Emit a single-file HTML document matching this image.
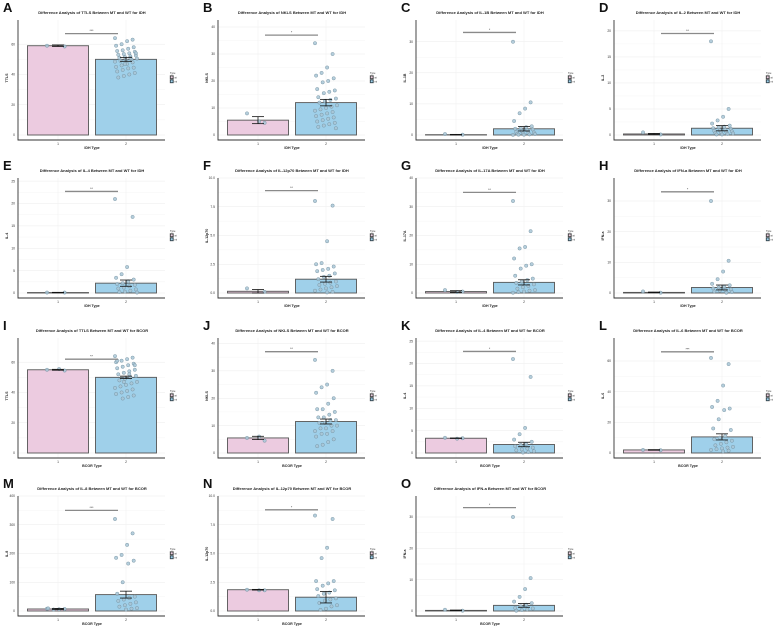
<!DOCTYPE html>
<html><head><meta charset="utf-8">
<style>
body{margin:0;background:#fff;}
svg{display:block;font-family:"Liberation Sans",sans-serif;}
</style></head>
<body>
<svg id="fig" width="779" height="628" viewBox="0 0 779 628"></svg>
<script>
const categories = ["1","2"];
const colOffsets = [0,200,398,596];
const rowOffsets = [0,158,318,476];

const A_ticks=[0,20,40,60]; const A_means=[59,50]; const A_errs=[0.5,1.3];
const A_p1=[59,58.5]; const A_p2=[64,63,62,60,59,58,57,56,55.5,55,54,53.5,53,52.5,52,51.5,51,50.5,50,49.5,49,48.5,48,47,46,45,44.5,44,43,42,41,40,39,38,54,51,47];
const B_ticks=[0,10,20,30,40]; const B_means=[5.5,12]; const B_errs=[1.3,1.2];
const B_p1=[8,4.5,5]; const B_p2=[34,30,25,23,22,21,20,19.5,17,16.5,16,15.5,14,13.5,13,12.5,12,11,10.5,10,9.5,9,8.5,8,7.5,7,6.5,6,5.5,5,4.5,4,3.5,3,2.5];
const C_ticks=[0,10,20,30]; const C_means=[0.1,2]; const C_errs=[0.1,0.7];
const C_p1=[0.3,0.1]; const C_p2=[30,10.5,8.5,7,4.5,2.8,2.5,2.2,2,1.8,1.5,1.3,1,0.8,0.6,0.5,0.4,0.3,0.2,0.1,0.1,0.05];
const D_ticks=[0,5,10,15,20]; const D_means=[0.2,1.3]; const D_errs=[0.1,0.5];
const D_p1=[0.5,0.1]; const D_p2=[18,5,3.5,2.8,2.2,1.8,1.6,1.5,1.3,1.2,1,0.9,0.8,0.7,0.6,0.5,0.4,0.3,0.2,0.1,0.1];
const E_ticks=[0,5,10,15,20,25]; const E_means=[0.1,2.2]; const E_errs=[0.05,0.7];
const E_p1=[0.1,0.1]; const E_p2=[21,17,5.8,4.2,3.4,3,2.6,2.2,2,1.8,1.5,1.2,1,0.8,0.5,0.3,0.2,0.1];
const F_ticks=[0,2.5,5,7.5,10]; const F_means=[0.15,1.2]; const F_errs=[0.15,0.25];
const F_p1=[0.4,0.1]; const F_p2=[8,7.6,4.5,2.6,2.5,2.3,2.1,2,1.9,1.7,1.5,1.4,1.2,1,0.9,0.8,0.7,0.6,0.5,0.4,0.3,0.2,0.1,0.05];
const G_ticks=[0,10,20,30,40]; const G_means=[0.5,3.7]; const G_errs=[0.3,0.9];
const G_p1=[1,0.5,0.3]; const G_p2=[32,21.5,16,15.5,12,10,9.5,8.5,6,5,4.5,4,3.5,3,2.5,2,1.5,1,0.8,0.5,0.3,0.1];
const H_ticks=[0,10,20,30]; const H_means=[0.2,1.8]; const H_errs=[0.1,0.8];
const H_p1=[0.5,0.1]; const H_p2=[30,10.5,7,4.5,3,2.5,2,1.8,1.5,1.2,1,0.8,0.5,0.3,0.1];
const I_ticks=[0,20,40,60]; const I_means=[55,50]; const I_errs=[0.3,0.8];
const I_p1=[55,54.5,55.5]; const I_p2=[64,63,62,61,60,59,58,57,56,55,54,53,52,51,50,49,48,47,46,45,44,43,42,41,40,39,38,37,36,61,58,52,47];
const J_ticks=[0,10,20,30,40]; const J_means=[5.5,11.5]; const J_errs=[0.6,0.9];
const J_p1=[5.5,4.5,6]; const J_p2=[34,30,25,24,22,20,18,16,16,15,14,13,13,12,12,11,11,10,10,9,9,8,8,7,7,6,5,4,3,2.5];
const K_ticks=[0,5,10,15,20,25]; const K_means=[3.3,1.9]; const K_errs=[0.05,0.5];
const K_p1=[3.4,3.3,3.2]; const K_p2=[21,17,5.6,4.2,3,2.5,2,1.8,1.5,1.2,1,0.8,0.6,0.4,0.2,0.1];
const L_ticks=[0,20,40,60]; const L_means=[2,10.5]; const L_errs=[0.2,2];
const L_p1=[2,1.8]; const L_p2=[62,58,44,34,30,29,28,22,16,15,11,10,9,8,7,6,5,4,3.5,3,2.5,2,1.5,1];
const M_ticks=[0,100,200,300,400]; const M_means=[7,57]; const M_errs=[2,12];
const M_p1=[8,7,6,5,9]; const M_p2=[320,270,230,195,185,175,165,100,60,50,45,40,35,30,25,20,15,10,8,5];
const N_ticks=[0,2.5,5,7.5,10]; const N_means=[1.85,1.2]; const N_errs=[0.03,0.5];
const N_p1=[1.85,1.8,1.8]; const N_p2=[8.3,8,5.5,4.6,2.6,2.6,2.4,2.2,1.9,1.8,1.6,1.5,1.3,1.1,1,0.9,0.7,0.5,0.4,0.2,0.1];
const O_ticks=[0,10,20,30]; const O_means=[0.2,1.8]; const O_errs=[0.1,0.6];
const O_p1=[0.4,0.1]; const O_p2=[30,10.5,7,4.5,3,2.5,2,1.5,1,0.8,0.5,0.3,0.1];

const panels=[
 {L:"A",col:0,row:0,v:"TTLS",g:"IDH",ymax:76,ticks:A_ticks,means:A_means,errs:A_errs,p1:A_p1,p2:A_p2,sig:"***",sy:67,tf:0},
 {L:"B",col:1,row:0,v:"NKLS",g:"IDH",ymax:42.6,ticks:B_ticks,means:B_means,errs:B_errs,p1:B_p1,p2:B_p2,sig:"*",sy:37,tf:0},
 {L:"C",col:2,row:0,v:"IL-1B",g:"IDH",ymax:37,ticks:C_ticks,means:C_means,errs:C_errs,p1:C_p1,p2:C_p2,sig:"*",sy:33,tf:0},
 {L:"D",col:3,row:0,v:"IL-2",g:"IDH",ymax:22.1,ticks:D_ticks,means:D_means,errs:D_errs,p1:D_p1,p2:D_p2,sig:"**",sy:19.5,tf:0},
 {L:"E",col:0,row:1,v:"IL-4",g:"IDH",ymax:25.7,ticks:E_ticks,means:E_means,errs:E_errs,p1:E_p1,p2:E_p2,sig:"**",sy:22.7,tf:0},
 {L:"F",col:1,row:1,v:"IL-12p70",g:"IDH",ymax:10,ticks:F_ticks,means:F_means,errs:F_errs,p1:F_p1,p2:F_p2,sig:"**",sy:8.9,tf:1},
 {L:"G",col:2,row:1,v:"IL-17A",g:"IDH",ymax:40,ticks:G_ticks,means:G_means,errs:G_errs,p1:G_p1,p2:G_p2,sig:"**",sy:35,tf:0},
 {L:"H",col:3,row:1,v:"IFN-a",g:"IDH",ymax:37.5,ticks:H_ticks,means:H_means,errs:H_errs,p1:H_p1,p2:H_p2,sig:"*",sy:33,tf:0},
 {L:"I",col:0,row:2,v:"TTLS",g:"BCOR",ymax:76,ticks:I_ticks,means:I_means,errs:I_errs,p1:I_p1,p2:I_p2,sig:"**",sy:62,tf:0},
 {L:"J",col:1,row:2,v:"NKLS",g:"BCOR",ymax:42,ticks:J_ticks,means:J_means,errs:J_errs,p1:J_p1,p2:J_p2,sig:"**",sy:37,tf:0},
 {L:"K",col:2,row:2,v:"IL-4",g:"BCOR",ymax:25.7,ticks:K_ticks,means:K_means,errs:K_errs,p1:K_p1,p2:K_p2,sig:"*",sy:22.7,tf:0},
 {L:"L",col:3,row:2,v:"IL-6",g:"BCOR",ymax:75,ticks:L_ticks,means:L_means,errs:L_errs,p1:L_p1,p2:L_p2,sig:"***",sy:66,tf:0},
 {L:"M",col:0,row:3,v:"IL-8",g:"BCOR",ymax:400,ticks:M_ticks,means:M_means,errs:M_errs,p1:M_p1,p2:M_p2,sig:"***",sy:350,tf:0},
 {L:"N",col:1,row:3,v:"IL-12p70",g:"BCOR",ymax:10,ticks:N_ticks,means:N_means,errs:N_errs,p1:N_p1,p2:N_p2,sig:"*",sy:8.8,tf:1},
 {L:"O",col:2,row:3,v:"IFN-a",g:"BCOR",ymax:36.7,ticks:O_ticks,means:O_means,errs:O_errs,p1:O_p1,p2:O_p2,sig:"*",sy:33,tf:0}
];

const NS="http://www.w3.org/2000/svg";
const fig=document.getElementById('fig');
function mk(parent,tag,attrs,text){
  const e=document.createElementNS(NS,tag);
  for(const k in attrs) e.setAttribute(k,attrs[k]);
  if(text!==undefined) e.textContent=text;
  parent.appendChild(e);
  return e;
}
const PL=18, PR=165, PT=20, ZERO=135, AXB=140;
const centers=[58,126], BW=61;

panels.forEach(p=>{
  const g=mk(fig,'g',{transform:`translate(${colOffsets[p.col]},${rowOffsets[p.row]})`});
  
  
  const y=v=>ZERO-(v/p.ymax)*(ZERO-PT);
  for(let i=0;i<p.ticks.length;i++){
    const l=mk(g,'line',{x1:PL,x2:PR,y1:y(p.ticks[i]),y2:y(p.ticks[i]),stroke:'#ebebeb','stroke-width':0.5});
    
    
    if(i<p.ticks.length-1){
      const mid=(p.ticks[i]+p.ticks[i+1])/2;
      mk(g,'line',{x1:PL,x2:PR,y1:y(mid),y2:y(mid),stroke:'#f3f3f3','stroke-width':0.4});
    }
  }
  centers.forEach(cx=>mk(g,'line',{x1:cx,x2:cx,y1:PT,y2:AXB,stroke:'#efefef','stroke-width':0.5}));
  const lt=mk(g,'text',{x:3,y:12,'font-size':13,'font-weight':'bold',fill:'#111'},p.L);
  
  
  const tt=mk(g,'text',{x:92,y:14,'font-size':4,'font-weight':'bold','text-anchor':'middle',fill:'#222'},
    `Difference Analysis of ${p.v} Between MT and WT for ${p.g}`);
  
  
  const fills=['#eccbe0','#9fd0ea'];
  p.means.forEach((m,i)=>{
    const b=mk(g,'rect',{x:centers[i]-BW/2,y:y(m),width:BW,height:ZERO-y(m),fill:fills[i],stroke:'#555','stroke-width':0.9});
    
    
  });
  [p.p1,p.p2].forEach((pts,gi)=>{
    pts.forEach((v,k)=>{
      const jit=(((k*37)%21)-10)/10*11;
      const c=mk(g,'circle',{cx:centers[gi]+jit,cy:y(v),r:1.7,fill:'#a8c6d6','fill-opacity':0.85,stroke:'#6d8a99','stroke-width':0.4});
      
      
    });
  });
  p.means.forEach((m,i)=>{
    const e=p.errs[i], cx=centers[i];
    const eg=mk(g,'g',{stroke:'#111','stroke-width':0.8});
    
    
    mk(eg,'line',{x1:cx,x2:cx,y1:y(m+e),y2:y(Math.max(0,m-e))});
    mk(eg,'line',{x1:cx-6,x2:cx+6,y1:y(m+e),y2:y(m+e)});
    mk(eg,'line',{x1:cx-6,x2:cx+6,y1:y(Math.max(0,m-e)),y2:y(Math.max(0,m-e))});
  });
  const sl=mk(g,'line',{x1:65,x2:118,y1:y(p.sy),y2:y(p.sy),stroke:'#8a8a8a','stroke-width':1.3});
  
  
  mk(g,'text',{x:91.5,y:y(p.sy)-1.5,'font-size':3.5,'text-anchor':'middle',fill:'#444'},p.sig);
  const ax=mk(g,'path',{d:`M${PL},${PT} L${PL},${AXB} L${PR},${AXB}`,fill:'none',stroke:'#333','stroke-width':0.9});
  
  
  p.ticks.forEach(t=>{
    const tl=mk(g,'text',{x:PL-3,y:y(t)+1.2,'font-size':3.3,'text-anchor':'end',fill:'#333'},p.tf?t.toFixed(1):String(t));
    
    
  });
  categories.forEach((c,i)=>{
    const xl=mk(g,'text',{x:centers[i],y:AXB+5,'font-size':3.3,'text-anchor':'middle',fill:'#333'},c);
    
    
  });
  const xt=mk(g,'text',{x:92,y:AXB+9,'font-size':3.6,'font-weight':'bold','text-anchor':'middle',fill:'#222'},p.g+' Type');
  
  
  const yt=mk(g,'text',{x:0,y:0,'font-size':3.6,'font-weight':'bold','text-anchor':'middle',fill:'#222',transform:'translate(8,78) rotate(-90)'},p.v);
  
  
  const lg=mk(g,'g',{});
  
  
  mk(lg,'text',{x:170,y:74,'font-size':2.5,fill:'#333'},'Type');
  mk(lg,'rect',{x:170,y:75.5,width:3.5,height:3.5,fill:'#555',stroke:'#333','stroke-width':0.3});
  mk(lg,'circle',{cx:171.75,cy:77.25,r:1,fill:'#eccbe0'});
  mk(lg,'text',{x:174.5,y:78.5,'font-size':2.3,fill:'#333'},'wt');
  mk(lg,'rect',{x:170,y:79.5,width:3.5,height:3.5,fill:'#3e5866',stroke:'#333','stroke-width':0.3});
  mk(lg,'circle',{cx:171.75,cy:81.25,r:1,fill:'#9fd0ea'});
  mk(lg,'text',{x:174.5,y:82.5,'font-size':2.3,fill:'#333'},'mt');
});
</script>
</body></html>
